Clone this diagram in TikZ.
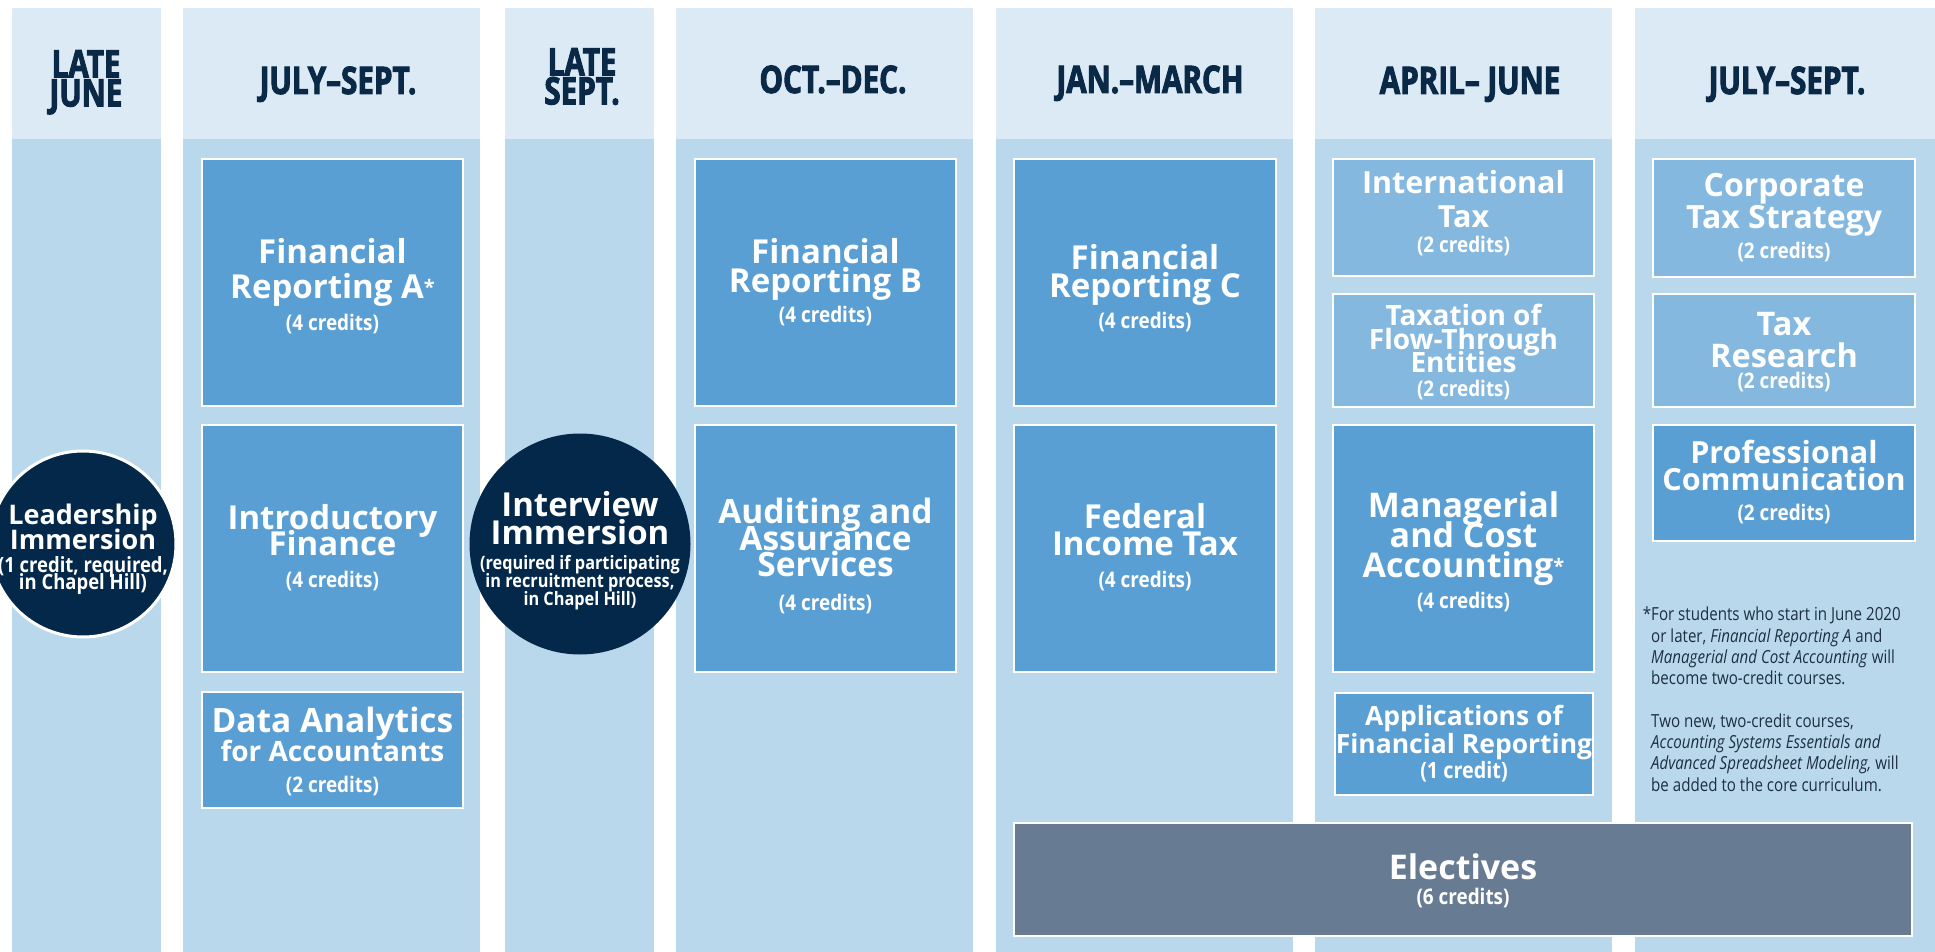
\documentclass[tikz,border=0pt]{standalone}
\usepackage{fontspec}
\setmainfont{Open Sans}
\newfontfamily\hdrfont[FakeStretch=0.78,BoldFeatures={FakeBold=2.5}]{Open Sans}
\newfontfamily\credfont[FakeStretch=0.88]{Open Sans}
\newfontfamily\notefont[FakeStretch=0.84]{Open Sans}
\lineskiplimit=-500pt
\definecolor{hdrbg}{HTML}{DCEAF6}
\definecolor{colbg}{HTML}{B9D8EC}
\definecolor{cdark}{HTML}{5A9FD4}
\definecolor{clight}{HTML}{84B8DF}
\definecolor{navy}{HTML}{04284A}
\definecolor{hdrtext}{HTML}{0A2947}
\definecolor{electc}{HTML}{677C92}
\definecolor{notec}{HTML}{1E2E40}
\newcommand{\cf}[1]{\credfont\bfseries\fontsize{#1}{#1}\selectfont}
\newcommand{\tf}[2]{\bfseries\fontsize{#1}{#2}\selectfont\lineskiplimit=-500pt\relax}
\newcommand{\supast}{\raisebox{4pt}{\fontsize{20}{20}\selectfont *}}
\tikzset{
  colhead/.style={fill=hdrbg},
  colbody/.style={fill=colbg},
  cbox/.style={rectangle, fill=cdark, draw=white, line width=2.5pt, inner sep=0pt},
  lbox/.style={cbox, fill=clight},
  ebox/.style={cbox, fill=electc, line width=2pt},
  ctext/.style={text=white, align=center, inner sep=0pt},
  hdr/.style={text=hdrtext, align=center, inner sep=0pt, font=\hdrfont\bfseries\fontsize{38}{29}\selectfont},
  imm/.style={circle, fill=navy, inner sep=0pt},
  note/.style={text=notec, align=left, inner sep=0pt, anchor=north west, font=\notefont\fontsize{18}{21.3}\selectfont}
}
% name, style, cx, cy, w, h, text y, font, text
\newcommand{\course}[9]{%
  \node[#2, minimum width=#5pt, minimum height=#6pt] (#1) at (#3,#4) {};
  \node[ctext, font=#8] (#1-t) at (#3,#7) {#9};}
\begin{document}
\begin{tikzpicture}[x=1pt,y=-1pt]
\useasboundingbox (0,0) rectangle (1935,952);
\fill[white] (0,0) rectangle (1935,952);
% columns
\foreach \a/\b in {12/161,183/480,505/654,676/973,996/1293,1315/1612,1635/1935}{
  \fill[colhead] (\a,8) rectangle (\b,139);
  \fill[colbody] (\a,139) rectangle (\b,952);
}
% headers
\node[hdr, anchor=north] (h1) at (86,50) {LATE\\JUNE};
\node[hdr, anchor=base] (h2) at (338,94) {JULY–SEPT.};
\node[hdr, anchor=north] (h3) at (582,48) {LATE\\SEPT.};
\node[hdr, anchor=base] (h4) at (833,93) {OCT.–DEC.};
\node[hdr, anchor=base] (h5) at (1150,93) {JAN.–MARCH};
\node[hdr, anchor=base] (h6) at (1470,94) {APRIL– JUNE};
\node[hdr, anchor=base] (h7) at (1787,94) {JULY–SEPT.};
% courses
\course{frA}{cbox}{332.5}{282.5}{261}{247}{286.5}{\tf{33}{35}}{Financial\\Reporting A\supast\\[-3pt]{\cf{21.5}(4 credits)}}
\course{intro}{cbox}{332.5}{548.5}{261}{247}{547.5}{\tf{33}{26.5}}{Introductory\\Finance\\[5pt]{\cf{21.5}(4 credits)}}
\course{data}{cbox}{332.5}{750}{261}{116}{751}{\tf{33.5}{29}}{Data Analytics\\{\fontsize{28}{28}\selectfont for Accountants}\\[2pt]{\cf{21.5}(2 credits)}}
\course{frB}{cbox}{825.5}{282.5}{261}{247}{282.5}{\tf{33}{29}}{Financial\\Reporting B\\[1pt]{\cf{21.5}(4 credits)}}
\course{audit}{cbox}{825.5}{548.5}{261}{247}{556}{\tf{33.5}{26.5}}{Auditing and\\Assurance\\Services\\[7pt]{\cf{21.5}(4 credits)}}
\course{frC}{cbox}{1145}{282.5}{262}{247}{288.5}{\tf{33}{28}}{Financial\\Reporting C\\[3pt]{\cf{21.5}(4 credits)}}
\course{fed}{cbox}{1145}{548.5}{262}{247}{547}{\tf{33}{27.5}}{Federal\\Income Tax\\[4pt]{\cf{21.5}(4 credits)}}
\course{intl}{lbox}{1463.5}{217.5}{261}{117}{213.5}{\tf{30.5}{34}}{International\\Tax\\[-9pt]{\cf{21.5}(2 credits)}}
\course{flow}{lbox}{1463.5}{350.5}{261}{113}{352}{\tf{28}{23.5}}{Taxation of\\Flow-Through\\Entities\\{\cf{21.5}(2 credits)}}
\course{manag}{cbox}{1463.5}{548.5}{261}{247}{551.5}{\tf{34}{30}}{Managerial\\and Cost\\Accounting\supast\\[1pt]{\cf{21.5}(4 credits)}}
\course{appl}{cbox}{1464}{744}{258}{102}{744}{\tf{26.5}{28}}{Applications of\\Financial Reporting\\[-3pt]{\cf{22.5}(1 credit)}}
\course{corp}{lbox}{1784}{218}{262}{118}{217.5}{\tf{32}{32.5}}{Corporate\\Tax Strategy\\[-3pt]{\cf{21.5}(2 credits)}}
\course{taxres}{lbox}{1784}{350.5}{262}{113}{352}{\tf{32.5}{32}}{Tax\\Research\\[-10.5pt]{\cf{21.5}(2 credits)}}
\course{prof}{cbox}{1784}{483}{262}{116}{482}{\tf{30.5}{27.5}}{Professional\\Communication\\[2.5pt]{\cf{21.5}(2 credits)}}
\course{elect}{ebox}{1463}{879.5}{898}{113}{881}{\tf{34}{25}}{Electives\\{\cf{21.5}(6 credits)}}
% immersion circles
\node[imm, draw=white, line width=3pt, minimum size=186pt] (lead) at (83,544) {};
\node[ctext, font=\tf{27}{25}] (lead-t) at (83,549.5) {Leadership\\Immersion\\[-2.5pt]{\cf{21}(1 credit, required,}\\[-7.5pt]{\cf{21}in Chapel Hill)}};
\node[imm, minimum size=221pt] (intv) at (580,544) {};
\node[ctext, font=\tf{33}{28}] (intv-t) at (580,551) {Interview\\Immersion\\[-3pt]{\cf{18.5}(required if participating}\\[-10pt]{\cf{18.5}in recruitment process,}\\[-10pt]{\cf{18.5}in Chapel Hill)}};
% footnote
\node[note] (fn) at (1651,607) {\llap{*}For students who start in June 2020\\ or later, \textit{Financial Reporting A} and\\ \textit{Managerial and Cost Accounting} will\\ become two-credit courses.\\[21.3pt] Two new, two-credit courses,\\ \textit{Accounting Systems Essentials and}\\ \textit{Advanced Spreadsheet Modeling,} will\\ be added to the core curriculum.};
\end{tikzpicture}
\end{document}
